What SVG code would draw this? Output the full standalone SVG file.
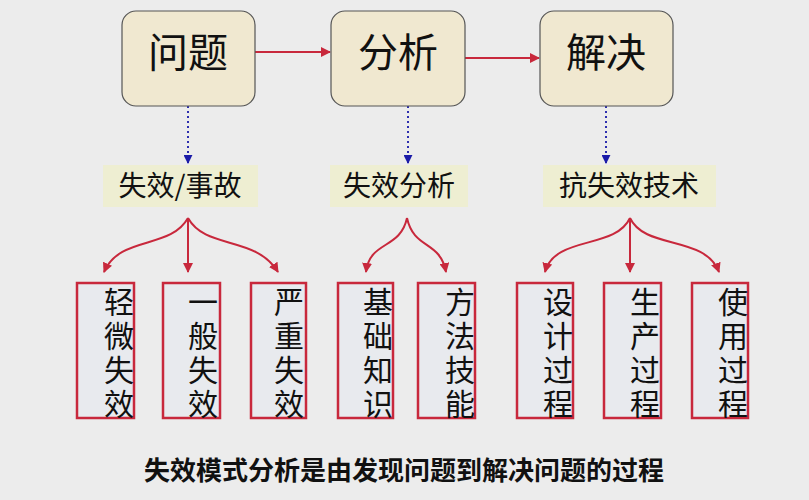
<svg xmlns="http://www.w3.org/2000/svg" width="809" height="500" viewBox="0 0 809 500">
<defs>
<marker id="ra" viewBox="0 0 10 10" refX="9" refY="5" markerWidth="5" markerHeight="5" orient="auto"><path d="M0,0 L10,5 L0,10 z" fill="#c8283c"/></marker>
<marker id="ba" viewBox="0 0 10 10" refX="9" refY="5" markerWidth="5" markerHeight="5" orient="auto"><path d="M0,0 L10,5 L0,10 z" fill="#1a1aa8"/></marker>
<style>
.top{fill:#f0e8d0;stroke:#555;stroke-width:1.2}
.tt{font-family:"Noto Sans CJK SC",sans-serif;font-size:40px;fill:#111;text-anchor:middle}
.lb{fill:#eeeed2}
.lt{font-family:"Noto Sans CJK SC",sans-serif;font-size:28px;fill:#111;text-anchor:middle}
.bx{fill:#e8eaee;stroke:#c8283c;stroke-width:2.5}
.bt{font-family:"Noto Sans CJK SC",sans-serif;font-size:30px;fill:#111;writing-mode:vertical-rl;letter-spacing:4px}
.rc{fill:none;stroke:#c8283c;stroke-width:2;marker-end:url(#ra)}
.bd{fill:none;stroke:#1a1aa8;stroke-width:1.8;stroke-dasharray:2 3;marker-end:url(#ba)}
</style>
</defs>
<rect width="809" height="500" fill="#ececec"/>
<g id="connectors">
<path class="rc" d="M255,52 H330"/>
<path class="rc" d="M465,58 H539"/>
<path class="bd" d="M188,106 V163"/>
<path class="bd" d="M408,106 V163"/>
<path class="bd" d="M606,106 V163"/>
<path class="rc" d="M188,218 C170,250 120,235 104,272"/>
<path class="rc" d="M188,218 V272"/>
<path class="rc" d="M188,218 C206,250 255,235 278,272"/>
<path class="rc" d="M407,218 C400,250 370,240 366,272"/>
<path class="rc" d="M407,218 C414,250 440,240 446,272"/>
<path class="rc" d="M630,218 C615,250 555,235 545,272"/>
<path class="rc" d="M630,218 V272"/>
<path class="rc" d="M630,218 C645,250 705,235 719,272"/>
</g>
<g id="n-wenti"><rect class="top" x="122" y="11" width="133" height="95" rx="14"/><text class="tt" x="188" y="67">问题</text></g>
<g id="n-fenxi"><rect class="top" x="331" y="11" width="134" height="95" rx="14"/><text class="tt" x="398" y="67">分析</text></g>
<g id="n-jiejue"><rect class="top" x="540" y="11" width="133" height="95" rx="14"/><text class="tt" x="606" y="67">解决</text></g>
<g id="l1"><rect class="lb" x="103" y="165" width="155" height="42"/><text class="lt" x="180" y="196">失效/事故</text></g>
<g id="l2"><rect class="lb" x="330" y="165" width="138" height="42"/><text class="lt" x="399" y="196">失效分析</text></g>
<g id="l3"><rect class="lb" x="543" y="165" width="173" height="42"/><text class="lt" x="629" y="196">抗失效技术</text></g>
<g id="b1"><rect class="bx" x="77" y="283" width="57" height="135"/><text class="bt" x="119" y="287">轻微失效</text></g>
<g id="b2"><rect class="bx" x="163" y="283" width="57" height="135"/><text class="bt" x="203" y="287">一般失效</text></g>
<g id="b3"><rect class="bx" x="251" y="283" width="55" height="135"/><text class="bt" x="289" y="287">严重失效</text></g>
<g id="b4"><rect class="bx" x="338" y="283" width="55" height="135"/><text class="bt" x="378" y="287">基础知识</text></g>
<g id="b5"><rect class="bx" x="418" y="283" width="57" height="135"/><text class="bt" x="460" y="287">方法技能</text></g>
<g id="b6"><rect class="bx" x="517" y="283" width="56" height="135"/><text class="bt" x="558" y="287">设计过程</text></g>
<g id="b7"><rect class="bx" x="604" y="283" width="57" height="135"/><text class="bt" x="645" y="287">生产过程</text></g>
<g id="b8"><rect class="bx" x="692" y="283" width="56" height="135"/><text class="bt" x="733" y="287">使用过程</text></g>
<text x="404" y="480" font-family="'Noto Sans CJK SC',sans-serif" font-size="26" font-weight="bold" fill="#111" text-anchor="middle">失效模式分析是由发现问题到解决问题的过程</text>
</svg>
